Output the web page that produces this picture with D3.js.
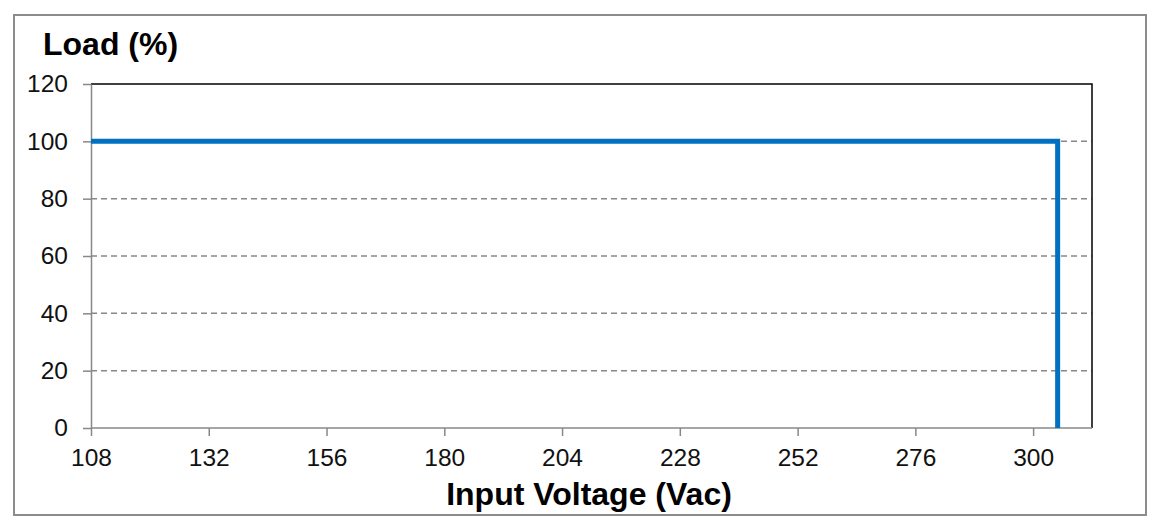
<!DOCTYPE html>
<html><head><meta charset="utf-8">
<script src="https://cdn.jsdelivr.net/npm/d3@7"></script>
<style>body{margin:0;background:#fff}svg{display:block}text{font-family:"Liberation Sans",Arial,sans-serif}</style>
</head><body><svg id="c" width="1161" height="524"></svg>
<script>
const xTicks = [108,132,156,180,204,228,252,276,300];
const yTicks = [0,20,40,60,80,100,120];
const gridValues = [20,40,60,80,100];
const voltage = [108, 305, 305];
const load = [100, 100, 0];
const xTitle = "Input Voltage (Vac)";
const yTitle = "Load (%)";

const svg = d3.select("#c");
const L=91, R=1092, T=84, B=428;
const x = d3.scaleLinear().domain([108,312]).range([L,R]);
const y = d3.scaleLinear().domain([0,120]).range([B,T]);

svg.append("rect").attr("x",14).attr("y",15).attr("width",1132).attr("height",500)
  .attr("fill","#fff").attr("stroke","#8c8c8c").attr("stroke-width",2);

// grid
svg.append("g").selectAll("line").data(gridValues).join("line")
  .attr("x1",L).attr("x2",R).attr("y1",d=>y(d)).attr("y2",d=>y(d))
  .attr("stroke","#888").attr("stroke-width",1.5).attr("stroke-dasharray","6,4");

// top & right frame
svg.append("path").attr("d",`M${L},${T}H${R}V${B}`).attr("fill","none")
  .attr("stroke","#000").attr("stroke-width",1.5);

// axes
const xa = svg.append("g").attr("transform",`translate(0,${B})`)
  .call(d3.axisBottom(x).tickValues(xTicks).tickSize(8).tickSizeOuter(0).tickPadding(13));
const ya = svg.append("g").attr("transform",`translate(${L},0)`)
  .call(d3.axisLeft(y).tickValues(yTicks).tickSize(8).tickSizeOuter(0).tickPadding(15));
xa.select(".domain").attr("d",`M${L},0H${R}`);
[xa,ya].forEach(a=>{
  a.select(".domain").attr("stroke","#888").attr("stroke-width",1.5);
  a.selectAll(".tick line").attr("stroke","#888").attr("stroke-width",1.5);
  a.selectAll(".tick text").attr("fill","#111").style("font-size","24.5px")
   .style("font-family","'Liberation Sans',Arial,sans-serif");
});

// data line
const line = d3.line().x(d=>x(d[0])).y(d=>y(d[1]));
svg.append("path").datum(voltage.map((v,i)=>[v,load[i]]))
  .attr("d",line).attr("fill","none").attr("stroke","#0070c0").attr("stroke-width",5)
  .attr("stroke-linejoin","miter");

svg.append("text").attr("x",43).attr("y",55).attr("font-size",32).attr("font-weight","bold")
  .text(yTitle);
svg.append("text").attr("x",589).attr("y",505).attr("text-anchor","middle")
  .attr("font-size",32).attr("font-weight","bold").text(xTitle);
</script></body></html>
